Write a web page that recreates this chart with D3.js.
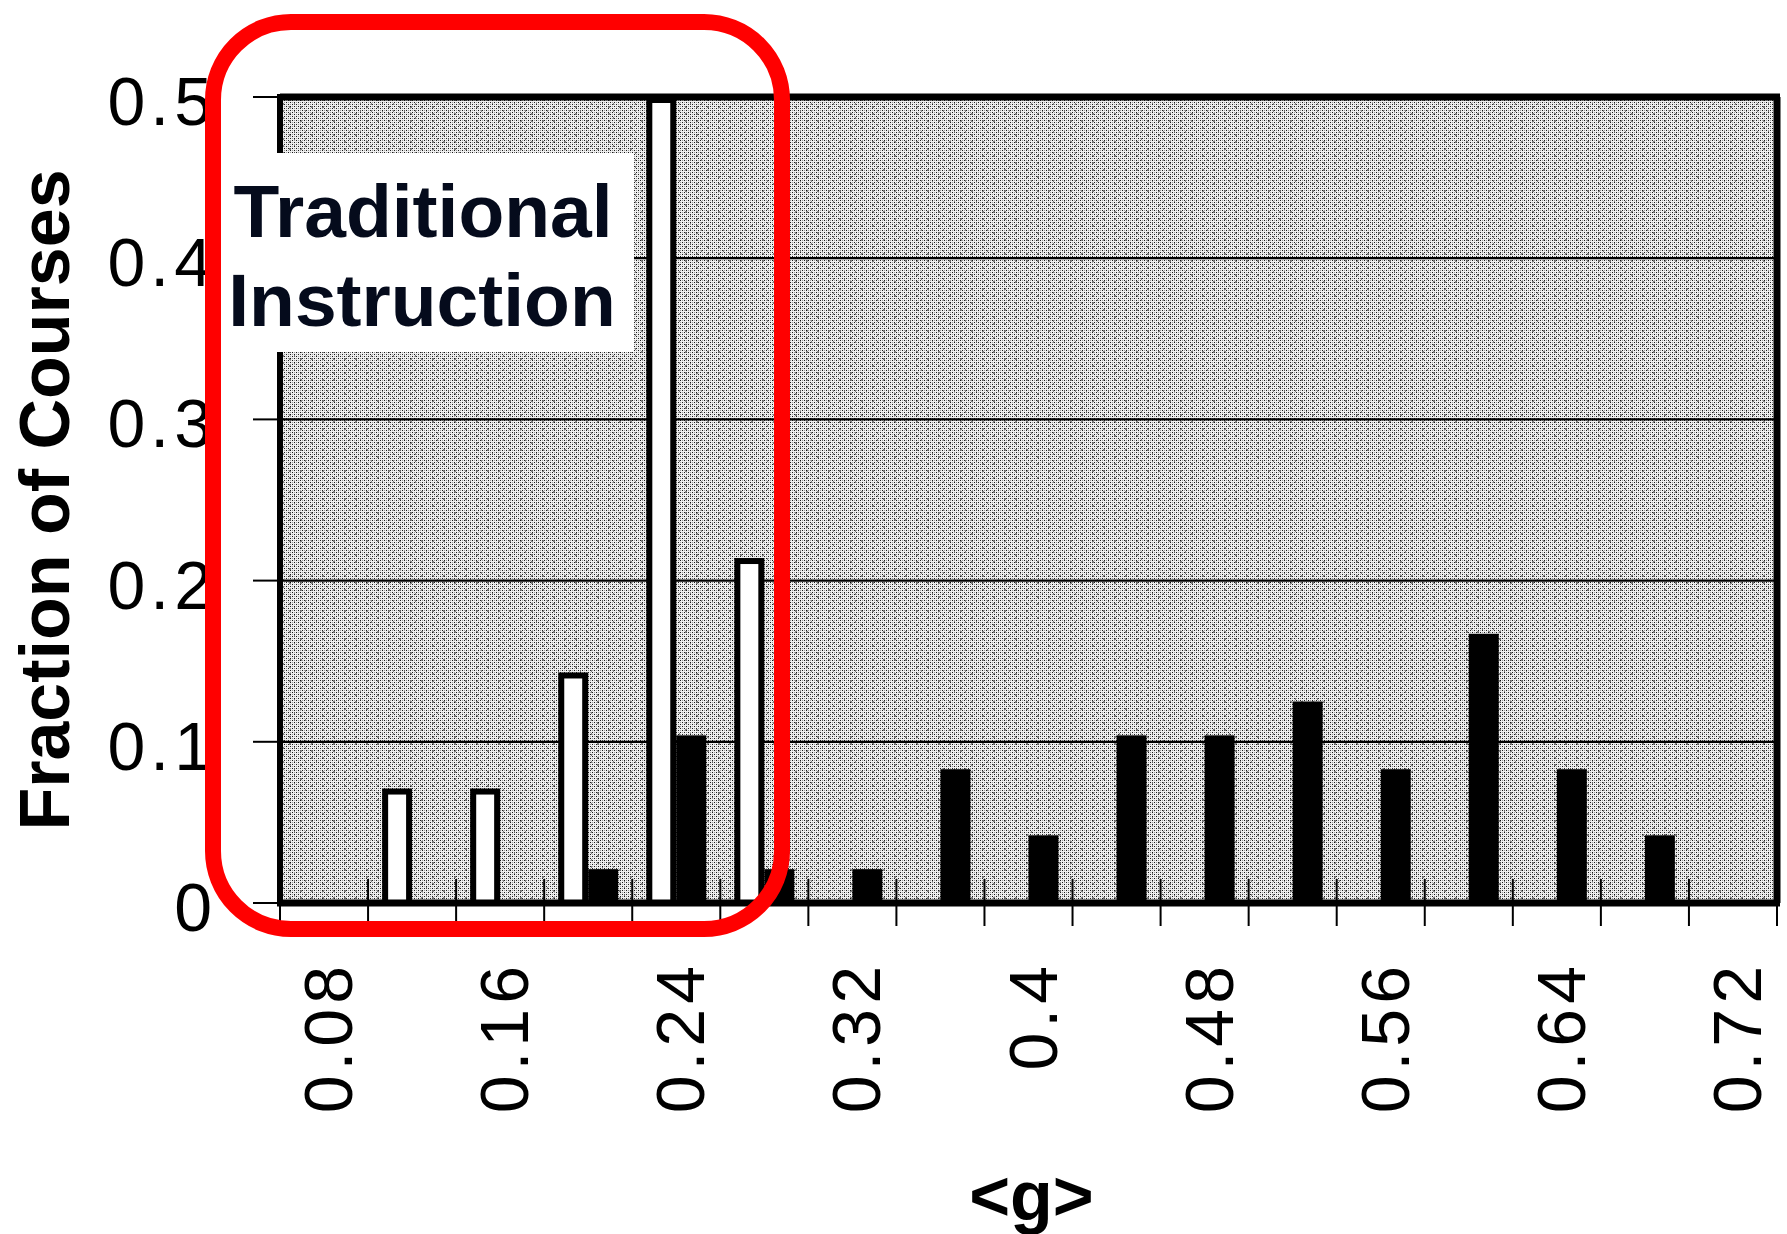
<!DOCTYPE html>
<html>
<head>
<meta charset="utf-8">
<script src="https://cdn.jsdelivr.net/npm/d3@7"></script>
<style>
  html, body { margin: 0; padding: 0; background: #fff; }
  svg { display: block; }
  text { font-family: "Liberation Sans", Arial, Helvetica, sans-serif; }
</style>
</head>
<body>
<div id="chart"></div>
<script>
// bins of <g>, every bin is one category on the axis
const categories = ["0.08", "0.12", "0.16", "0.20", "0.24", "0.28", "0.32", "0.36", "0.40",
  "0.44", "0.48", "0.52", "0.56", "0.60", "0.64", "0.68", "0.72"];
// only every other bin gets a label
const tickLabels = ["0.08", "0.16", "0.24", "0.32", "0.4", "0.48", "0.56", "0.64", "0.72"];
const labelBins = ["0.08", "0.16", "0.24", "0.32", "0.40", "0.48", "0.56", "0.64", "0.72"];

// fraction of courses
const traditional = [0, 0.071, 0.071, 0.143, 0.5, 0.214, 0, 0, 0, 0, 0, 0, 0, 0, 0, 0, 0];
const interactive = [0, 0, 0, 0.021, 0.104, 0.021, 0.021, 0.083, 0.042, 0.104, 0.104, 0.125,
  0.083, 0.167, 0.083, 0.042, 0];

const yTicks = [0, 0.1, 0.2, 0.3, 0.4, 0.5];
const yTickLabels = ["0", "0.1", "0.2", "0.3", "0.4", "0.5"];

const width = 1787;
const height = 1234;

// plot box
const plotLeft = 280, plotRight = 1777, plotTop = 97, plotBottom = 903;

const svg = d3.select("#chart").append("svg")
  .attr("width", width)
  .attr("height", height);

// grey stipple like the scanned figure
const defs = svg.append("defs");
const pat = defs.append("pattern")
  .attr("id", "stipple")
  .attr("patternUnits", "userSpaceOnUse")
  .attr("width", 4)
  .attr("height", 4);
pat.append("rect").attr("width", 4).attr("height", 4).attr("fill", "#efefef");
pat.append("rect").attr("x", 0).attr("y", 0).attr("width", 1).attr("height", 1).attr("fill", "#1a1a1a");
pat.append("rect").attr("x", 2).attr("y", 2).attr("width", 1).attr("height", 1).attr("fill", "#1a1a1a");
pat.append("rect").attr("x", 2).attr("y", 0).attr("width", 1).attr("height", 1).attr("fill", "#9a9a9a");
pat.append("rect").attr("x", 0).attr("y", 2).attr("width", 1).attr("height", 1).attr("fill", "#9a9a9a");

// a coarser layer of specks so it looks less flat
const specks = defs.append("pattern")
  .attr("id", "specks")
  .attr("patternUnits", "userSpaceOnUse")
  .attr("width", 11)
  .attr("height", 7);
specks.append("rect").attr("x", 3).attr("y", 1).attr("width", 2).attr("height", 2).attr("fill", "#000");
specks.append("rect").attr("x", 8).attr("y", 5).attr("width", 1).attr("height", 2).attr("fill", "#000");

const x = d3.scaleBand()
  .domain(categories)
  .range([plotLeft, plotRight])
  .padding(0);

const x1 = d3.scaleBand()
  .domain(["traditional", "interactive"])
  .range([0, x.bandwidth()])
  .paddingInner(0)
  .paddingOuter(0.47);

const y = d3.scaleLinear()
  .domain([0, 0.5])
  .range([plotBottom, plotTop]);

// background
svg.append("rect")
  .attr("x", plotLeft)
  .attr("y", plotTop)
  .attr("width", plotRight - plotLeft)
  .attr("height", plotBottom - plotTop)
  .attr("fill", "url(#stipple)");
svg.append("rect")
  .attr("x", plotLeft)
  .attr("y", plotTop)
  .attr("width", plotRight - plotLeft)
  .attr("height", plotBottom - plotTop)
  .attr("fill", "url(#specks)")
  .attr("opacity", 0.45);

// horizontal grid lines
svg.append("g")
  .selectAll("line")
  .data(yTicks.slice(1, -1))
  .join("line")
  .attr("x1", plotLeft)
  .attr("x2", plotRight)
  .attr("y1", d => y(d))
  .attr("y2", d => y(d))
  .attr("stroke", "#000")
  .attr("stroke-width", 2.2);

// y ticks, outside the box
svg.append("g")
  .selectAll("line")
  .data(yTicks)
  .join("line")
  .attr("x1", 253)
  .attr("x2", plotLeft)
  .attr("y1", d => y(d))
  .attr("y2", d => y(d))
  .attr("stroke", "#000")
  .attr("stroke-width", 2);

// y tick labels
svg.append("g")
  .selectAll("text")
  .data(yTicks)
  .join("text")
  .attr("x", 217)
  .attr("y", d => y(d) + 28)
  .attr("text-anchor", "end")
  .attr("font-size", 68)
  .attr("letter-spacing", 5)
  .attr("fill", "#000")
  .text((d, i) => yTickLabels[i]);

// bars
const groups = svg.append("g")
  .selectAll("g")
  .data(categories)
  .join("g")
  .attr("transform", d => `translate(${x(d)},0)`);

// traditional: white with black outline
groups.filter((d, i) => traditional[i] > 0)
  .append("rect")
  .attr("x", x1("traditional") + 3)
  .attr("width", x1.bandwidth() - 6)
  .attr("y", d => y(traditional[categories.indexOf(d)]) + 3)
  .attr("height", d => plotBottom - y(traditional[categories.indexOf(d)]) - 3)
  .attr("fill", "#fff")
  .attr("stroke", "#000")
  .attr("stroke-width", 6);

// interactive engagement: solid black
groups.filter((d, i) => interactive[i] > 0)
  .append("rect")
  .attr("x", x1("interactive"))
  .attr("width", x1.bandwidth())
  .attr("y", d => y(interactive[categories.indexOf(d)]))
  .attr("height", d => plotBottom - y(interactive[categories.indexOf(d)]))
  .attr("fill", "#000");

// x ticks at the bin edges, crossing the base line
const edges = categories.map(c => x(c)).concat([plotRight]);
svg.append("g")
  .selectAll("line")
  .data(edges)
  .join("line")
  .attr("x1", d => d)
  .attr("x2", d => d)
  .attr("y1", plotBottom - 24)
  .attr("y2", plotBottom + 23)
  .attr("stroke", "#000")
  .attr("stroke-width", 2);

// frame
svg.append("line").attr("x1", plotLeft).attr("x2", plotRight + 3).attr("y1", plotTop).attr("y2", plotTop)
  .attr("stroke", "#000").attr("stroke-width", 7);
svg.append("line").attr("x1", plotRight).attr("x2", plotRight).attr("y1", plotTop).attr("y2", plotBottom)
  .attr("stroke", "#000").attr("stroke-width", 7);
svg.append("line").attr("x1", plotLeft).attr("x2", plotLeft).attr("y1", plotTop - 3).attr("y2", plotBottom + 3)
  .attr("stroke", "#000").attr("stroke-width", 6);
svg.append("line").attr("x1", plotLeft - 3).attr("x2", plotRight + 3).attr("y1", plotBottom).attr("y2", plotBottom)
  .attr("stroke", "#000").attr("stroke-width", 7);

// x tick labels, rotated
svg.append("g")
  .selectAll("text")
  .data(labelBins)
  .join("text")
  .attr("transform", d => `translate(${x(d) + x.bandwidth() / 2},961) rotate(-90)`)
  .attr("x", 0)
  .attr("y", 28)
  .attr("text-anchor", "end")
  .attr("font-size", 68)
  .attr("letter-spacing", 5)
  .attr("fill", "#000")
  .text((d, i) => tickLabels[i]);

// axis titles
svg.append("text")
  .attr("x", (plotLeft + plotRight) / 2 + 3)
  .attr("y", 1220)
  .attr("text-anchor", "middle")
  .attr("font-size", 70)
  .attr("font-weight", "bold")
  .text("<g>");

svg.append("text")
  .attr("transform", "translate(69,500) rotate(-90)")
  .attr("text-anchor", "middle")
  .attr("font-size", 70)
  .attr("font-weight", "bold")
  .text("Fraction of Courses");

// call-out for the traditional courses
svg.append("rect")
  .attr("x", 222)
  .attr("y", 153)
  .attr("width", 412)
  .attr("height", 199)
  .attr("fill", "#fff");

const note = svg.append("text")
  .attr("text-anchor", "middle")
  .attr("font-size", 75)
  .attr("font-weight", "bold")
  .attr("fill", "#050b1c");
note.append("tspan").attr("x", 423).attr("y", 237).text("Traditional");
note.append("tspan").attr("x", 422).attr("y", 326).text("Instruction");

svg.append("rect")
  .attr("x", 213)
  .attr("y", 22)
  .attr("width", 569)
  .attr("height", 907)
  .attr("rx", 78)
  .attr("ry", 78)
  .attr("fill", "none")
  .attr("stroke", "#ff0000")
  .attr("stroke-width", 16);
</script>
</body>
</html>
